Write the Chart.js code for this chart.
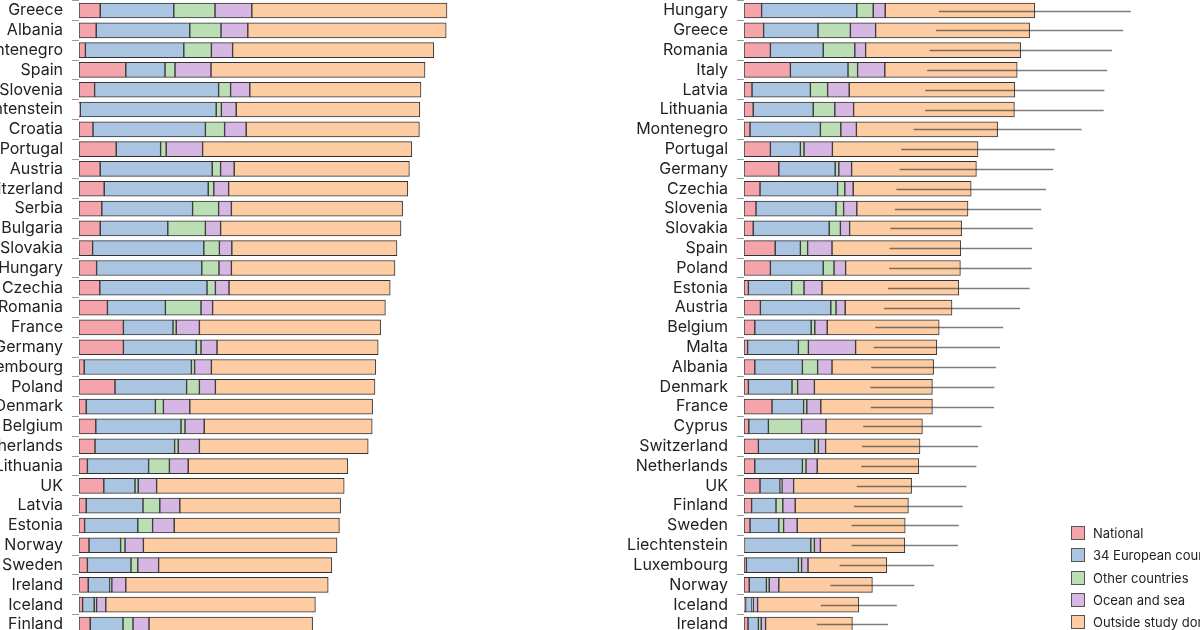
<!DOCTYPE html>
<html>
<head>
<meta charset="utf-8">
<script src="https://cdn.jsdelivr.net/npm/chart.js@4.4.1/dist/chart.umd.min.js"></script>
<style>
    html, body { margin: 0; padding: 0; width: 1200px; height: 630px; overflow: hidden; background: #fff; }
    .panel { position: absolute; top: -18px; }
    #leftPanel { left: -31px; width: 610px; height: 671px; }
    #rightPanel { left: 614px; width: 570px; height: 671px; }
    #legend { position: absolute; left: 1071px; top: 522px; font-family: Inter, "Noto Sans", sans-serif; font-size: 13px; color: #222; }
    .legend-item { height: 22.3px; display: flex; align-items: center; white-space: nowrap; }
    .legend-box { width: 12px; height: 12px; border: 1px solid #555; margin-right: 8px; }
</style>
</head>
<body>
<div class="panel" id="leftPanel"><canvas id="leftChart"></canvas></div>
<div class="panel" id="rightPanel"><canvas id="rightChart"></canvas></div>
<div id="legend"></div>

<script>
// Nombres de las series y colores
const SERIES_LABELS = ['National', '34 European countries', 'Other countries', 'Ocean and sea', 'Outside study domain'];
const SERIES_COLORS = ['#f4a4aa', '#a9c5e2', '#bcdeb4', '#d6b6e2', '#fdcca2'];

// Panel izquierdo
const LEFT_COUNTRIES = ['Greece', 'Albania', 'Montenegro', 'Spain', 'Slovenia', 'Liechtenstein', 'Croatia', 'Portugal',
    'Austria', 'Switzerland', 'Serbia', 'Bulgaria', 'Slovakia', 'Hungary', 'Czechia', 'Romania', 'France', 'Germany',
    'Luxembourg', 'Poland', 'Denmark', 'Belgium', 'Netherlands', 'Lithuania', 'UK', 'Latvia', 'Estonia', 'Norway',
    'Sweden', 'Ireland', 'Iceland', 'Finland'];
const LEFT_NATIONAL = [5.3, 4.3, 1.6, 11.7, 3.9, 0.3, 3.5, 9.3, 5.3, 6.3, 5.7, 5.3, 3.4, 4.4, 5.2, 7.1, 11.1, 11.1,
    1.3, 9.0, 1.8, 4.2, 4.0, 2.1, 6.2, 1.8, 1.4, 2.5, 2.1, 2.3, 0.9, 2.8];
const LEFT_EUROPEAN = [18.4, 23.4, 24.6, 9.8, 31.0, 34.0, 28.1, 11.1, 28.0, 26.0, 22.7, 16.9, 27.8, 26.3, 26.8, 14.5,
    12.4, 18.2, 26.8, 17.9, 17.3, 21.3, 19.9, 15.3, 7.8, 14.2, 13.3, 7.9, 10.9, 5.4, 2.9, 8.2];
const LEFT_OTHER = [10.3, 7.8, 6.9, 2.5, 3.0, 1.3, 4.8, 1.4, 2.1, 1.4, 6.5, 9.4, 3.9, 4.3, 2.1, 8.9, 0.8, 1.2, 0.8,
    3.2, 2.0, 1.0, 0.9, 5.2, 0.8, 4.2, 3.7, 1.1, 1.7, 0.5, 0.6, 2.5];
const LEFT_OCEAN = [9.2, 6.7, 5.3, 9.0, 4.8, 3.7, 5.4, 9.1, 3.4, 3.7, 3.2, 3.8, 3.1, 3.1, 3.4, 2.9, 5.8, 4.0, 4.2,
    4.0, 6.6, 4.8, 5.3, 4.7, 4.6, 5.0, 5.4, 4.6, 5.2, 3.5, 2.3, 4.0];
const LEFT_OUTSIDE = [48.8, 49.6, 50.3, 53.5, 42.8, 45.9, 43.3, 52.3, 43.8, 44.8, 42.8, 45.1, 41.3, 40.9, 40.3, 43.2,
    45.3, 40.3, 41.1, 39.9, 45.7, 42.0, 42.2, 39.9, 46.9, 40.2, 41.3, 48.4, 43.3, 50.6, 52.4, 40.9];

// Panel derecho
const RIGHT_COUNTRIES = ['Hungary', 'Greece', 'Romania', 'Italy', 'Latvia', 'Lithuania', 'Montenegro', 'Portugal',
    'Germany', 'Czechia', 'Slovenia', 'Slovakia', 'Spain', 'Poland', 'Estonia', 'Austria', 'Belgium', 'Malta',
    'Albania', 'Denmark', 'France', 'Cyprus', 'Switzerland', 'Netherlands', 'UK', 'Finland', 'Sweden',
    'Liechtenstein', 'Luxembourg', 'Norway', 'Iceland', 'Ireland'];
const RIGHT_NATIONAL = [4.4, 4.9, 6.6, 11.6, 2.0, 2.3, 1.5, 6.6, 8.7, 4.0, 3.0, 2.3, 7.8, 6.6, 1.1, 4.1, 2.7, 0.9,
    2.7, 1.1, 7.0, 1.2, 3.6, 2.7, 4.0, 1.9, 1.5, 0.1, 0.6, 1.3, 0.4, 1.0];
const RIGHT_EUROPEAN = [23.8, 13.6, 13.2, 14.4, 14.6, 15.0, 17.6, 7.5, 14.1, 19.4, 20.0, 19.0, 6.3, 13.2, 10.8, 17.6,
    14.1, 12.7, 11.9, 10.9, 7.9, 4.9, 14.1, 11.9, 5.0, 6.1, 7.2, 16.6, 13.0, 4.3, 1.6, 2.6];
const RIGHT_OTHER = [4.1, 8.1, 7.9, 2.4, 4.3, 5.4, 5.1, 0.9, 0.9, 1.8, 1.9, 2.8, 1.8, 2.7, 3.1, 1.3, 0.9, 2.5, 3.8,
    1.4, 0.8, 8.3, 0.9, 0.9, 0.5, 1.7, 1.2, 0.9, 0.8, 0.7, 0.3, 0.7];
const RIGHT_OCEAN = [3.0, 6.3, 2.7, 6.8, 5.4, 4.7, 3.9, 7.1, 3.2, 2.1, 3.3, 2.3, 6.1, 2.9, 4.5, 2.3, 3.1, 11.8, 3.6,
    4.2, 3.5, 6.1, 1.8, 2.8, 2.9, 3.1, 3.4, 1.5, 1.6, 2.4, 1.1, 1.1];
const RIGHT_OUTSIDE = [37.4, 38.5, 38.8, 33.1, 41.4, 40.2, 35.3, 36.4, 31.2, 29.5, 27.8, 28.0, 32.2, 28.7, 34.2,
    26.7, 28.0, 20.3, 25.4, 29.5, 27.9, 24.1, 23.6, 25.4, 29.5, 28.3, 27.0, 21.1, 19.7, 23.4, 25.3, 21.7];
const RIGHT_ERROR = [24.0, 23.4, 22.8, 22.5, 22.4, 22.3, 21.0, 19.2, 19.2, 18.7, 18.3, 17.8, 17.8, 17.8, 17.7, 17.0,
    16.0, 15.8, 15.6, 15.5, 15.4, 14.8, 14.5, 14.4, 13.7, 13.6, 13.4, 13.3, 11.8, 10.5, 9.5, 8.9];

// Dibuja las barras de error alrededor del total de cada barra
const errorLinesPlugin = {
    id: 'errorLines',
    afterDatasetsDraw(chart, args, opts) {
        if (!opts.values) return;
        const ctx = chart.ctx;
        const x = chart.scales.x;
        const y = chart.scales.y;
        ctx.save();
        ctx.strokeStyle = 'rgba(45, 45, 45, 0.62)';
        ctx.lineWidth = 1.4;
        opts.values.forEach((err, i) => {
            const total = chart.data.datasets.reduce((s, ds) => s + ds.data[i], 0);
            const yPos = Math.round(y.getPixelForValue(i)) + 0.5;
            ctx.beginPath();
            ctx.moveTo(x.getPixelForValue(total - err), yPos);
            ctx.lineTo(x.getPixelForValue(total + err), yPos);
            ctx.stroke();
        });
        ctx.restore();
    }
};

function createStackedChart(canvasId, labels, series, xMax, axisWidth, errors) {
    const ctx = document.getElementById(canvasId);
    return new Chart(ctx, {
        type: 'bar',
        data: {
            labels: labels,
            datasets: series.map((data, index) => ({
                label: SERIES_LABELS[index],
                data: data,
                backgroundColor: SERIES_COLORS[index],
                borderColor: '#333',
                borderWidth: 1,
                borderSkipped: false,
                barThickness: 15
            }))
        },
        options: {
            indexAxis: 'y',
            responsive: true,
            maintainAspectRatio: false,
            animation: false,
            layout: { padding: 0 },
            plugins: {
                legend: { display: false },
                tooltip: { enabled: false },
                errorLines: { values: errors }
            },
            scales: {
                x: { display: false, stacked: true, min: 0, max: xMax },
                y: {
                    stacked: true,
                    afterFit(scale) { scale.width = axisWidth; },
                    border: { display: false },
                    grid: {
                        drawOnChartArea: false,
                        drawTicks: true,
                        tickLength: 7,
                        color: '#9a9a9a',
                        offset: true
                    },
                    ticks: {
                        autoSkip: false,
                        padding: 9,
                        color: '#222',
                        font: { family: 'Inter, "Noto Sans", sans-serif', size: 16 }
                    }
                }
            }
        },
        plugins: [errorLinesPlugin]
    });
}

createStackedChart('leftChart', LEFT_COUNTRIES,
    [LEFT_NATIONAL, LEFT_EUROPEAN, LEFT_OTHER, LEFT_OCEAN, LEFT_OUTSIDE], 125, 110, null);
createStackedChart('rightChart', RIGHT_COUNTRIES,
    [RIGHT_NATIONAL, RIGHT_EUROPEAN, RIGHT_OTHER, RIGHT_OCEAN, RIGHT_OUTSIDE], 110, 130, RIGHT_ERROR);

// Leyenda en HTML
const legendEl = document.getElementById('legend');
SERIES_LABELS.forEach((label, i) => {
    const item = document.createElement('div');
    item.className = 'legend-item';
    item.innerHTML = '<span class="legend-box" style="background:' + SERIES_COLORS[i] + '"></span>' + label;
    legendEl.appendChild(item);
});
</script>
</body>
</html>
